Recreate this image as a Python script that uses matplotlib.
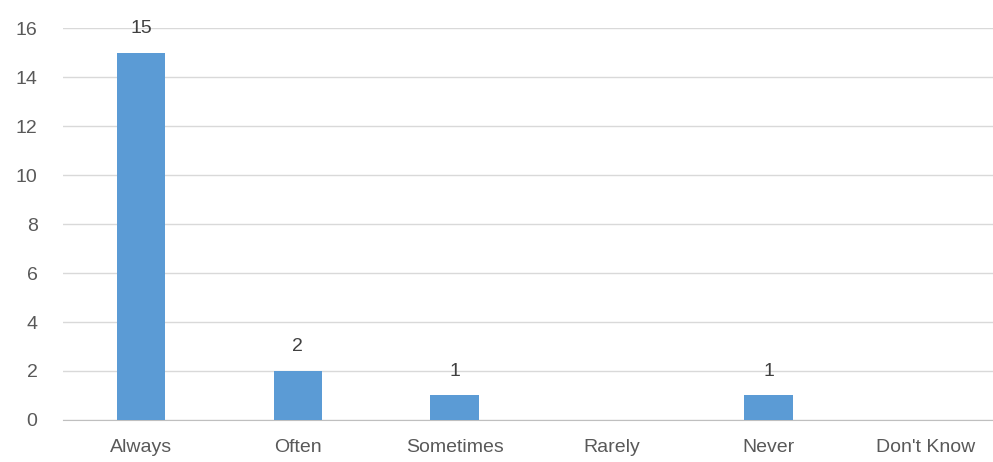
import matplotlib.pyplot as plt

categories = ["Always", "Often", "Sometimes", "Rarely", "Never", "Don't Know"]
counts = [15, 2, 1, 0, 1, 0]
yticks = [0, 2, 4, 6, 8, 10, 12, 14, 16]

plt.rcParams["font.family"] = ["Liberation Sans", "DejaVu Sans"]

fig = plt.figure(figsize=(9.93, 4.62), dpi=100)
ax = fig.add_axes([0.063, 0.091, 0.948, 0.848])

x = range(len(categories))
bars = ax.bar(x, counts, width=0.31, color="#5b9bd5", zorder=3)
for xi, v in zip(x, counts):
    if v > 0:
        ax.text(xi, v + 0.65, str(v), ha="center", va="bottom",
                fontsize=14, color="#404040")

ax.set_xlim(-0.5, len(categories) - 0.5)
ax.set_ylim(0, 16)
ax.set_yticks(yticks)
ax.set_xticks(list(x))
ax.set_xticklabels(categories)
ax.tick_params(length=0, labelsize=14, colors="#595959")
ax.tick_params(axis="x", pad=14)
ax.tick_params(axis="y", pad=18)
ax.grid(axis="y", color="#d9d9d9", linewidth=1, zorder=0)
for side in ["top", "right", "left"]:
    ax.spines[side].set_visible(False)
ax.spines["bottom"].set_color("#bfbfbf")

fig.savefig("out.png", dpi=100)
